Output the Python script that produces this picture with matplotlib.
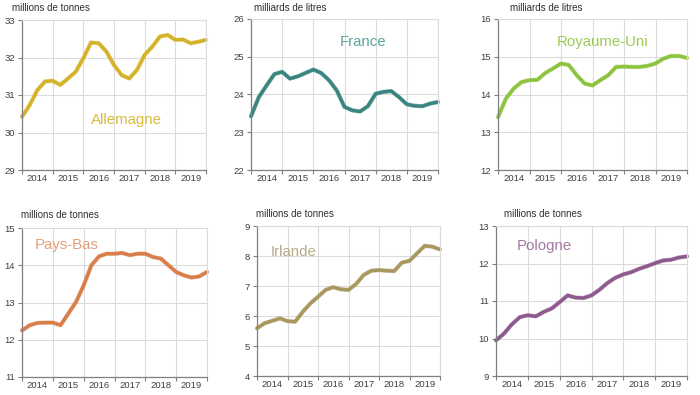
import matplotlib
matplotlib.use("Agg")
import matplotlib.pyplot as plt
import matplotlib.patheffects as pe
import numpy as np

plt.rcParams['font.family'] = ['Liberation Sans', 'DejaVu Sans']

# x positions (fractional years), quarterly from Jan 2014 to Dec 2019
x_quarters = [2014.0, 2014.25, 2014.5, 2014.75, 2015.0, 2015.25, 2015.5, 2015.75,
              2016.0, 2016.25, 2016.5, 2016.75, 2017.0, 2017.25, 2017.5, 2017.75,
              2018.0, 2018.25, 2018.5, 2018.75, 2019.0, 2019.25, 2019.5, 2019.75, 2020.0]
years = [2014, 2015, 2016, 2017, 2018, 2019]

allemagne = [30.42, 30.73, 31.13, 31.36, 31.38, 31.27, 31.44, 31.62, 31.98, 32.40, 32.38, 32.16,
             31.80, 31.53, 31.44, 31.67, 32.07, 32.29, 32.56, 32.60, 32.47, 32.48, 32.38, 32.42, 32.47]
france = [23.42, 23.93, 24.24, 24.54, 24.60, 24.42, 24.48, 24.57, 24.66, 24.57, 24.38, 24.11,
          23.67, 23.58, 23.55, 23.69, 24.02, 24.07, 24.09, 23.93, 23.74, 23.70, 23.69, 23.76, 23.80]
royaume_uni = [13.40, 13.89, 14.16, 14.33, 14.38, 14.39, 14.57, 14.69, 14.82, 14.78, 14.51, 14.29,
               14.24, 14.38, 14.51, 14.73, 14.74, 14.73, 14.73, 14.76, 14.82, 14.95, 15.02, 15.02, 14.97]
pays_bas = [12.25, 12.39, 12.45, 12.46, 12.46, 12.39, 12.70, 13.01, 13.46, 14.00, 14.24, 14.31,
            14.31, 14.33, 14.27, 14.31, 14.31, 14.22, 14.18, 14.00, 13.82, 13.73, 13.67, 13.70, 13.82]
irlande = [5.59, 5.76, 5.84, 5.92, 5.83, 5.81, 6.14, 6.42, 6.64, 6.87, 6.96, 6.89,
           6.87, 7.07, 7.37, 7.51, 7.53, 7.51, 7.50, 7.78, 7.84, 8.09, 8.34, 8.31, 8.22]
pologne = [9.95, 10.13, 10.38, 10.57, 10.62, 10.59, 10.71, 10.80, 10.97, 11.15, 11.09, 11.08,
           11.15, 11.30, 11.48, 11.62, 11.71, 11.77, 11.86, 11.93, 12.01, 12.08, 12.10, 12.16, 12.19]

panels = [
    dict(name="Allemagne", unit="millions de tonnes", y=allemagne, ylim=(29, 33), color="#D4B22A",
         lcolor="#D9BC3A", rect=(22, 20, 206, 170), unit_xy=(12, 8), name_xy=(126, 120)),
    dict(name="France", unit="milliards de litres", y=france, ylim=(22, 26), color="#3A8580",
         lcolor="#5FA59E", rect=(251, 19, 438, 170), unit_xy=(254, 8), name_xy=(363, 42)),
    dict(name="Royaume-Uni", unit="milliards de litres", y=royaume_uni, ylim=(12, 16), color="#8DC33F",
         lcolor="#9CCB55", rect=(498, 19, 687, 170), unit_xy=(510, 8), name_xy=(603, 42)),
    dict(name="Pays-Bas", unit="millions de tonnes", y=pays_bas, ylim=(11, 15), color="#D97E4A",
         lcolor="#E3A07A", rect=(22, 228, 207, 377), unit_xy=(21, 215), name_xy=(67, 245)),
    dict(name="Irlande", unit="millions de tonnes", y=irlande, ylim=(4, 9), color="#A8985E",
         lcolor="#B5A98A", rect=(257, 226, 440, 376), unit_xy=(256, 214), name_xy=(294, 252)),
    dict(name="Pologne", unit="millions de tonnes", y=pologne, ylim=(9, 13), color="#8E5A8E",
         lcolor="#A27AA2", rect=(496, 226, 687, 376), unit_xy=(504, 214), name_xy=(544, 246)),
]

W, H = 700, 395
fig = plt.figure(figsize=(W / 100, H / 100), dpi=100)
fig.patch.set_facecolor("white")

for p in panels:
    x0, y0, x1, y1 = p["rect"]
    ax = fig.add_axes([x0 / W, 1 - y1 / H, (x1 - x0) / W, (y1 - y0) / H])
    ax.set_xlim(2014.0, 2020.0)
    ax.set_ylim(*p["ylim"])
    ax.set_yticks(np.arange(p["ylim"][0], p["ylim"][1] + 1, 1))
    ax.set_xticks([2014, 2015, 2016, 2017, 2018, 2019, 2020])
    ax.set_xticklabels([])
    ax.set_xticks([yr + 0.5 for yr in years], minor=True)
    ax.set_xticklabels([str(yr) for yr in years], minor=True)
    ax.tick_params(axis="x", which="minor", length=0, labelsize=6.8, colors="#404040", pad=3)
    ax.tick_params(axis="x", which="major", length=3, color="#808080", direction="out")
    ax.tick_params(axis="y", length=3, color="#808080", labelsize=6.8, labelcolor="#404040", pad=2)
    ax.grid(True, which="major", color="#dcdcdc", linewidth=0.8)
    ax.set_axisbelow(True)
    for s in ["top", "right"]:
        ax.spines[s].set_color("#dcdcdc")
        ax.spines[s].set_linewidth(0.8)
    for s in ["left", "bottom"]:
        ax.spines[s].set_color("#808080")
        ax.spines[s].set_linewidth(0.9)
    ax.plot(x_quarters, p["y"], color=p["color"], linewidth=2.4, solid_capstyle="round",
            solid_joinstyle="round", clip_on=False,
            path_effects=[pe.Stroke(linewidth=3.1, foreground=p["color"], alpha=0.5), pe.Normal()])
    ux, uy = p["unit_xy"]
    fig.text(ux / W, 1 - uy / H, p["unit"], fontsize=7, color="#303030", va="center", ha="left")
    nx, ny = p["name_xy"]
    fig.text(nx / W, 1 - ny / H, p["name"], fontsize=10.8, color=p["lcolor"], va="center", ha="center")

fig.savefig("out.png", dpi=100, facecolor="white")
